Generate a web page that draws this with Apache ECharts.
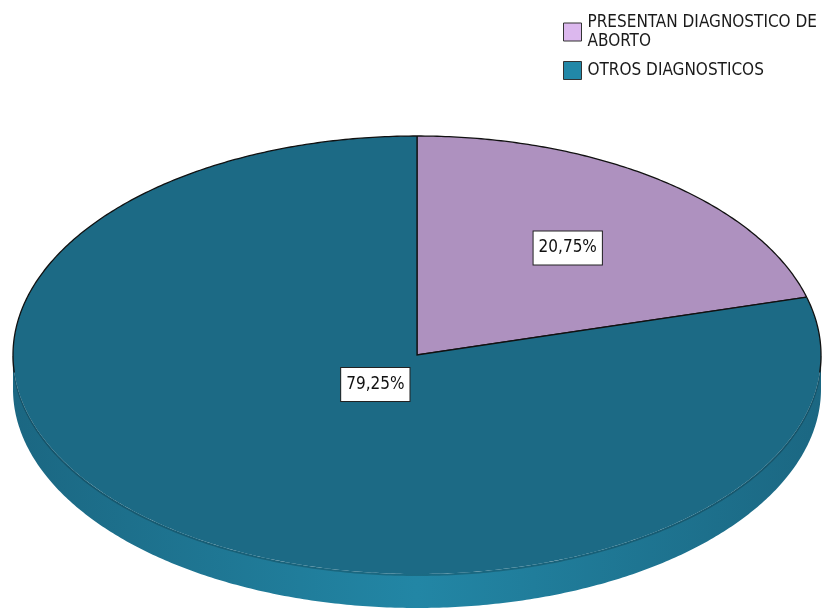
<!DOCTYPE html>
<html>
<head>
<meta charset="utf-8">
<style>
  html, body { margin: 0; padding: 0; background: #fff; }
  #main { width: 825px; height: 609px; }
</style>
<script src="https://cdn.jsdelivr.net/npm/echarts@6/dist/echarts.min.js"></script>
</head>
<body>
<div id="main"></div>
<script>
// data
var categories = ['PRESENTAN DIAGNOSTICO DE\nABORTO', 'OTROS DIAGNOSTICOS'];
var percents = [20.75, 79.25];
var percentLabels = ['20,75%', '79,25%'];

// look
var topColors = ['#ae91bf', '#1c6a85'];
var sideDark = ['#8a6f9a', '#1b6782'];
var sideLight = ['#a487b6', '#2286a5'];
var legendColors = ['#dcb8ee', '#2288a8'];
var labelRadius = [0.615, 0.17];
var FONT = '"DejaVu Sans Condensed", "Liberation Sans Narrow", sans-serif';

var pie = { cx: 417, cy: 355, rx: 404, ry: 219, depth: 34 };

var total = percents.reduce(function (a, b) { return a + b; }, 0);

function sliceAngles(i) {
	var before = 0;
	for (var k = 0; k < i; k++) before += percents[k];
	var a = -Math.PI / 2 + 2 * Math.PI * before / total;
	var b = a + 2 * Math.PI * percents[i] / total;
	return [a, b];
}

function pt(t, dy) {
	return [pie.cx + pie.rx * Math.cos(t), pie.cy + (dy || 0) + pie.ry * Math.sin(t)];
}

function arcPoints(a, b, dy) {
	var pts = [];
	var n = Math.max(2, Math.ceil((b - a) / 0.01));
	for (var j = 0; j <= n; j++) pts.push(pt(a + (b - a) * j / n, dy));
	return pts;
}

// overlap of [a,b] with a window shifted by whole turns
function clip(a, b, lo, hi) {
	var out = [];
	for (var s = -1; s <= 1; s++) {
		var l = Math.max(a, lo + s * 2 * Math.PI), h = Math.min(b, hi + s * 2 * Math.PI);
		if (h > l) out.push([l, h]);
	}
	return out;
}

function makeRender(i) {
	return function (params, api) {
		var ang = sliceAngles(i);
		var a = ang[0], b = ang[1];
		var children = [];

		// side band, only the front (lower) half shows
		clip(a, b, 0, Math.PI).forEach(function (r) {
			var pts = arcPoints(r[0], r[1], 0).concat(arcPoints(r[0], r[1], pie.depth).reverse());
			children.push({
				type: 'polygon',
				shape: { points: pts },
				style: {
					fill: {
						type: 'linear', x: pie.cx - pie.rx, y: 0, x2: pie.cx + pie.rx, y2: 0, global: true,
						colorStops: [
							{ offset: 0, color: sideDark[i] },
							{ offset: 0.5, color: sideLight[i] },
							{ offset: 1, color: sideDark[i] }
						]
					}
				}
			});
			// soft shadow just under the top rim
			children.push({
				type: 'polyline',
				shape: { points: arcPoints(r[0], r[1], 1) },
				style: { stroke: 'rgba(0,0,0,0.2)', lineWidth: 2, fill: null }
			});
		});

		// top face
		children.push({
			type: 'polygon',
			shape: { points: [[pie.cx, pie.cy]].concat(arcPoints(a, b, 0)) },
			style: { fill: topColors[i] }
		});

		// black outline on radial edges and the back rim
		children.push({
			type: 'polyline',
			shape: { points: [pt(a), [pie.cx, pie.cy], pt(b)] },
			style: { stroke: '#111', lineWidth: 1.3, fill: null }
		});
		clip(a, b, -Math.PI - 0.08, 0.08).forEach(function (r) {
			children.push({
				type: 'polyline',
				shape: { points: arcPoints(r[0], r[1], 0) },
				style: { stroke: '#111', lineWidth: 1.3, fill: null }
			});
		});

		// value label
		var mid = (a + b) / 2;
		children.push({
			type: 'text',
			x: pie.cx + pie.rx * labelRadius[i] * Math.cos(mid),
			y: pie.cy + pie.ry * labelRadius[i] * Math.sin(mid),
			z2: 10,
			style: {
				text: percentLabels[i],
				font: '17px ' + FONT,
				fill: '#111',
				align: 'center',
				verticalAlign: 'middle',
				backgroundColor: '#fff',
				borderColor: '#222',
				borderWidth: 1,
				padding: [8, 5, 8, 5]
			}
		});

		return { type: 'group', children: children };
	};
}

var chart = echarts.init(document.getElementById('main'));

var series = categories.map(function (name, i) {
	return {
		name: name,
		type: 'custom',
		coordinateSystem: 'none',
		silent: true,
		animation: false,
		itemStyle: { color: legendColors[i] },
		data: [[percents[i]]],
		renderItem: makeRender(i)
	};
});

chart.setOption({
	backgroundColor: '#fff',
	animation: false,
	legend: {
		orient: 'vertical',
		left: 563,
		top: 13,
		padding: 0,
		icon: 'rect',
		itemWidth: 18,
		itemHeight: 18,
		itemGap: 10,
		selectedMode: false,
		textStyle: { fontFamily: FONT, fontSize: 17, lineHeight: 19, color: '#1a1a1a', padding: [0, 0, 0, 1] },
		data: categories.map(function (name, i) {
			return { name: name, itemStyle: { color: legendColors[i], borderColor: '#333', borderWidth: 1 } };
		})
	},
	series: series
});
</script>
</body>
</html>
